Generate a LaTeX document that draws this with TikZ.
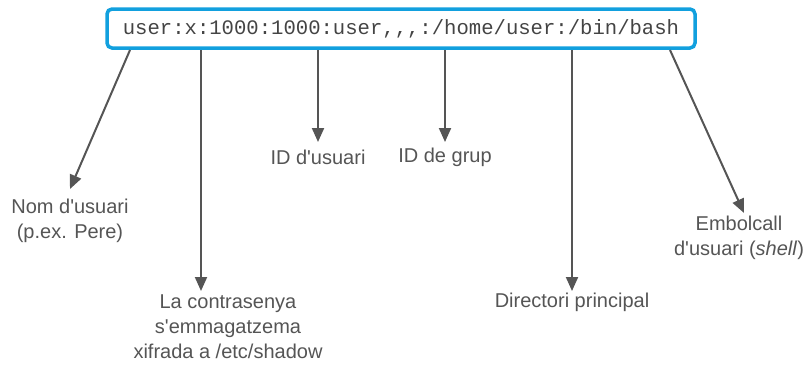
\documentclass[tikz,border=0pt]{standalone}
\usepackage{fontspec}
\setmainfont{Liberation Sans}
\newfontfamily\monof{Liberation Mono}
\usetikzlibrary{arrows.meta}
\definecolor{boxblue}{HTML}{12A0DE}
\definecolor{inkgray}{HTML}{555555}
\newcommand\aps{\textquotesingle}
\begin{document}
\begin{tikzpicture}[x=1pt,y=-1pt,
  arr/.style={draw=inkgray,line width=2pt,-{Triangle[length=14pt,width=12pt]}},
  lbl/.style={text=inkgray,font=\fontsize{20}{25}\selectfont,align=center,inner sep=0pt}]
\useasboundingbox (0,0) rectangle (805,365);
\node[draw=boxblue,line width=3.5pt,rounded corners=5pt,minimum width=588pt,minimum height=39pt,inner sep=0pt,
  font=\monof\fontsize{20.6}{24}\selectfont,text=inkgray!80!black] (box) at (401,28.5) {user:x:1000:1000:user,,,:/home/user:/bin/bash};
\node[lbl] (nom) at (70,221) {Nom d\aps usuari\\(p.ex. Pere)};
\node[lbl] (pw) at (228,327) {La contrasenya\\s\aps emmagatzema\\xifrada a /etc/shadow};
\node[lbl] (uid) at (318,157) {ID d\aps usuari};
\node[lbl] (gid) at (445,157) {ID de grup};
\node[lbl] (home) at (572,302) {Directori principal};
\node[lbl] (sh) at (739,238) {Embolcall\\d\aps usuari (\textit{shell})};
\coordinate (s1) at (130,50); \coordinate (t1) at (70,189);
\coordinate (s2) at (201,50); \coordinate (t2) at (201,291);
\coordinate (s3) at (318,50); \coordinate (t3) at (318,142);
\coordinate (s4) at (445,50); \coordinate (t4) at (445,142);
\coordinate (s5) at (572,50); \coordinate (t5) at (572,291);
\coordinate (s6) at (670,50); \coordinate (t6) at (744,213);
\draw[arr] (s1) -- (t1);
\draw[arr] (s2) -- (t2);
\draw[arr] (s3) -- (t3);
\draw[arr] (s4) -- (t4);
\draw[arr] (s5) -- (t5);
\draw[arr] (s6) -- (t6);
\end{tikzpicture}
\end{document}
